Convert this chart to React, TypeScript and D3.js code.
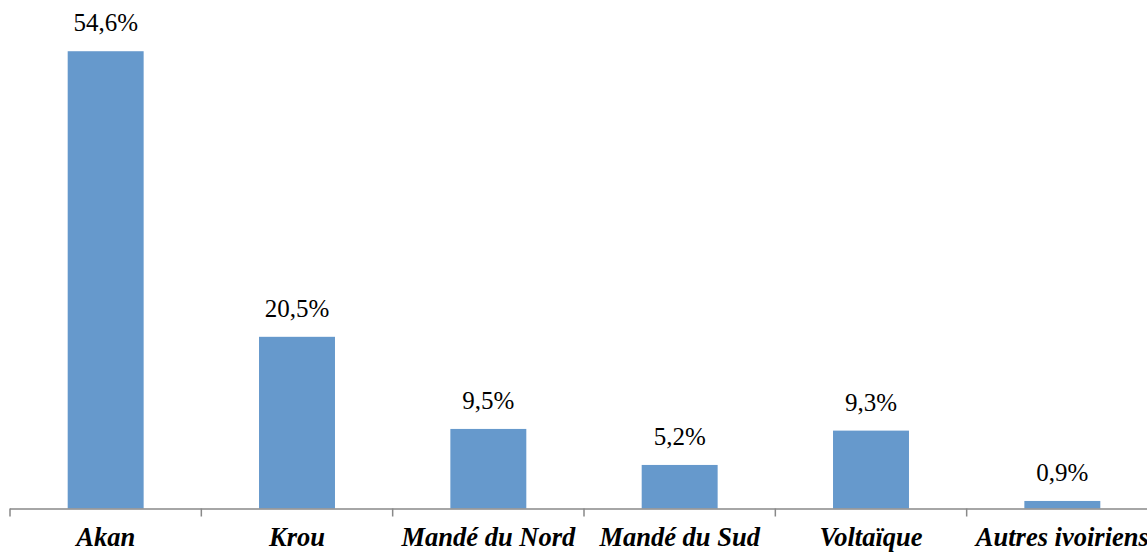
import { useEffect, useRef } from "react";
import * as d3 from "d3";

const categories = ["Akan", "Krou", "Mandé du Nord", "Mandé du Sud", "Voltaïque", "Autres ivoiriens"];
const values = [54.6, 20.5, 9.5, 5.2, 9.3, 0.9];
const labels = ["54,6%", "20,5%", "9,5%", "5,2%", "9,3%", "0,9%"];

const W = 1147;
const H = 552;
const dims = { left: 10, right: -11, top: 6, bot: 43.5 };
const serif = "'Liberation Serif', 'DejaVu Serif', serif";

export default function App() {
  const ref = useRef<SVGSVGElement>(null);

  useEffect(() => {
    const svg = d3.select(ref.current);
    svg.selectAll("*").remove();

    const width = W - dims.left - dims.right;
    const height = H - dims.top - dims.bot;

    const x = d3
      .scaleBand()
      .domain(categories)
      .range([0, width])
      .paddingInner(0.603)
      .paddingOuter(0.3015);
    const xTicks = d3.scaleBand().domain(categories).range([0, width]);
    const y = d3.scaleLinear().domain([0, 60]).range([height, 0]);

    const g = svg.append("g").attr("transform", "translate(" + dims.left + ", " + dims.top + ")");

    g.selectAll(".bar")
      .data(values)
      .join("rect")
      .attr("class", "bar")
      .attr("x", (d, i) => x(categories[i])!)
      .attr("y", (d) => y(d))
      .attr("width", x.bandwidth())
      .attr("height", (d) => height - y(d))
      .attr("fill", "#6699CC");

    g.selectAll(".val")
      .data(values)
      .join("text")
      .attr("class", "val")
      .attr("x", (d, i) => x(categories[i])! + x.bandwidth() / 2)
      .attr("y", (d) => y(d) - 20)
      .attr("text-anchor", "middle")
      .style("font-family", serif)
      .style("font-size", "25px")
      .attr("fill", "#000")
      .text((d, i) => labels[i]);

    // axis line and tick marks
    g.append("line")
      .attr("x1", 0)
      .attr("x2", W)
      .attr("y1", height + 0.5)
      .attr("y2", height + 0.5)
      .attr("stroke", "#898989")
      .attr("stroke-width", 1.5);

    const tickPos = categories.map((c) => xTicks(c)!).concat([width]);
    g.selectAll(".tick")
      .data(tickPos)
      .join("line")
      .attr("class", "tick")
      .attr("x1", (d) => d)
      .attr("x2", (d) => d)
      .attr("y1", height)
      .attr("y2", height + 8)
      .attr("stroke", "#898989")
      .attr("stroke-width", 1.5);

    g.selectAll(".cat")
      .data(categories)
      .join("text")
      .attr("class", "cat")
      .attr("x", (d) => xTicks(d)! + xTicks.bandwidth() / 2)
      .attr("y", height + 37)
      .attr("text-anchor", "middle")
      .style("font-family", serif)
      .style("font-size", "26.5px")
      .style("font-weight", "bold")
      .style("font-style", "italic")
      .attr("fill", "#000")
      .text((d) => d);
  }, []);

  return (
    <svg ref={ref} width={W} height={H} style={{ position: "absolute", left: 0, top: 0 }} />
  );
}
